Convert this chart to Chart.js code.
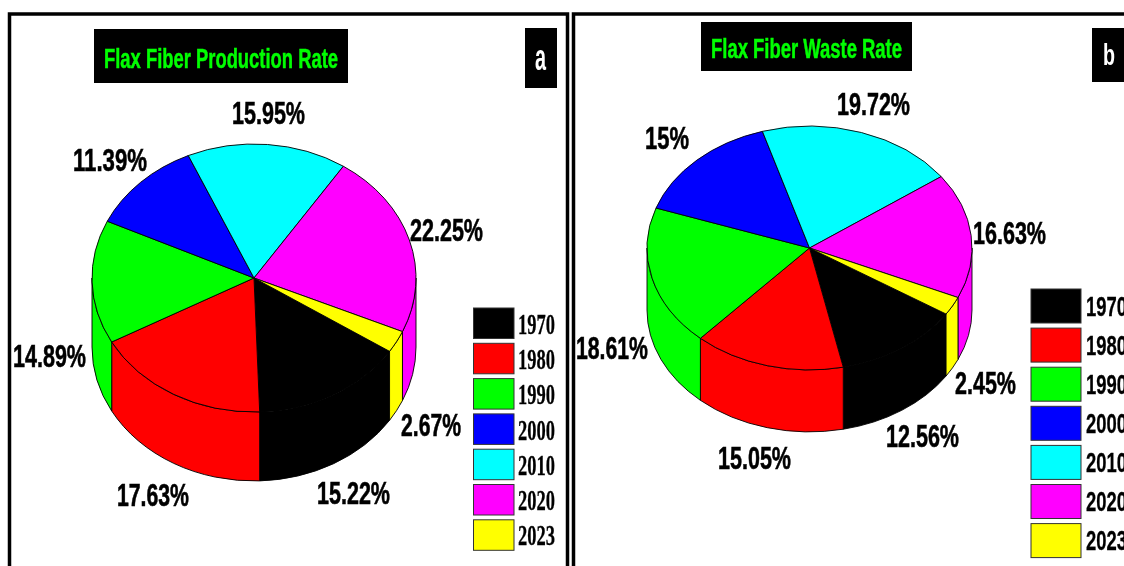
<!DOCTYPE html>
<html>
<head>
<meta charset="utf-8">
<title>Flax fiber production and waste rates</title>
<script src="https://cdn.jsdelivr.net/npm/chart.js@4"></script>
<style>
  html, body { margin: 0; padding: 0; background: #fff; overflow: hidden; }
  #wrap { position: relative; width: 1124px; height: 566px; }
  canvas { position: absolute; top: 0; }
  #chartA { left: 0; }
  #chartB { left: 570px; }
</style>
</head>
<body>
<div id="wrap">
  <canvas id="chartA" width="570" height="566"></canvas>
  <canvas id="chartB" width="554" height="566"></canvas>
</div>
<script>
// Shared categories and slice colours
const years = ['1970', '1980', '1990', '2000', '2010', '2020', '2023'];
const sliceColors = ['#000000', '#ff0000', '#00ff00', '#0000ff', '#00ffff', '#ff00ff', '#ffff00'];

// Percent share per year
const productionRate = [15.22, 17.63, 14.89, 11.39, 15.95, 22.25, 2.67];
const wasteRate = [12.56, 15.05, 18.61, 15, 19.72, 16.63, 2.45];

// Value label boxes for each panel, in canvas pixels: [left, width, centre y]
const productionLabelBoxes = [
  [317, 73, 493], [117, 72, 495], [13, 73, 356], [73, 74, 160],
  [232, 73, 113], [410, 73, 230], [401, 60, 425]
];
const wasteLabelBoxes = [
  [316, 73, 436], [148, 73, 458], [6, 72, 348], [75, 44, 138],
  [267, 73, 104], [403, 73, 233], [385, 61, 383]
];

// Draws a single line squeezed to the given width, with its cap height centred on cy.
// A thin outline thickens the squeezed strokes.
function fitText(ctx, text, left, width, cy, size, family, color, weight) {
  ctx.save();
  ctx.font = 'bold ' + size + 'px ' + family;
  ctx.fillStyle = color;
  ctx.strokeStyle = color;
  ctx.textAlign = 'left';
  ctx.textBaseline = 'alphabetic';
  const natural = ctx.measureText(text).width;
  ctx.translate(left, cy + size * 0.358);
  ctx.scale(width / natural, 1);
  ctx.fillText(text, 0, 0);
  if (weight) {
    ctx.lineWidth = weight;
    ctx.strokeText(text, 0, 0);
  }
  ctx.restore();
}

// Tilted pie with a visible side wall, plus frame, title, tag, value labels and key
const tiltedPie = {
  id: 'tiltedPie',
  beforeDraw(chart, args, o) {
    const ctx = chart.ctx;
    ctx.save();
    ctx.fillStyle = '#fff';
    ctx.fillRect(0, 0, chart.width, chart.height);
    ctx.strokeStyle = '#000';
    ctx.lineWidth = 3.5;
    ctx.strokeRect(o.frame[0], o.frame[1], o.frame[2], o.frame[3]);
    ctx.restore();
  },
  beforeDatasetsDraw(chart, args, o) {
    const ctx = chart.ctx;
    const arcs = chart.getDatasetMeta(0).data;
    const cy = arcs[0].y;
    ctx.save();
    ctx.translate(0, cy);
    ctx.scale(1, o.tilt);
    ctx.translate(0, -cy);
    const depth = o.depth / o.tilt;
    arcs.forEach((arc, i) => {
      // Only the part of each slice on the near half of the rim shows a wall
      for (let turn = -1; turn <= 1; turn++) {
        const s = Math.max(arc.startAngle + turn * 2 * Math.PI, 0);
        const e = Math.min(arc.endAngle + turn * 2 * Math.PI, Math.PI);
        if (e <= s) continue;
        ctx.beginPath();
        ctx.arc(arc.x, arc.y, arc.outerRadius, s, e);
        ctx.arc(arc.x, arc.y + depth, arc.outerRadius, e, s, true);
        ctx.closePath();
        ctx.fillStyle = sliceColors[i];
        ctx.fill();
        ctx.lineWidth = 1;
        ctx.strokeStyle = '#000';
        ctx.stroke();
      }
    });
  },
  afterDatasetsDraw(chart, args, o) {
    const ctx = chart.ctx;
    ctx.restore();

    // Title box
    ctx.fillStyle = '#000';
    ctx.fillRect(o.titleBox[0], o.titleBox[1], o.titleBox[2], o.titleBox[3]);
    fitText(ctx, o.title, o.titleText[0], o.titleText[1], o.titleText[2], 27, '"Liberation Sans"', '#00ff00', 0.5);

    // Panel tag
    ctx.fillStyle = '#000';
    ctx.fillRect(o.tagBox[0], o.tagBox[1], o.tagBox[2], o.tagBox[3]);
    fitText(ctx, o.tag, o.tagText[0], o.tagText[1], o.tagText[2], o.tagText[3], '"Liberation Sans"', '#ffffff');

    // Value labels
    chart.data.datasets[0].data.forEach((v, i) => {
      const b = o.labelBoxes[i];
      fitText(ctx, v + '%', b[0], b[1], b[2], 32, '"Liberation Sans"', '#000', 0.6);
    });

    // Key
    const k = o.key;
    chart.data.labels.forEach((year, i) => {
      const y = k.top + i * k.pitch;
      ctx.fillStyle = sliceColors[i];
      ctx.fillRect(k.x, y, k.w, k.h);
      ctx.lineWidth = 1;
      ctx.strokeStyle = '#333';
      ctx.strokeRect(k.x, y, k.w, k.h);
      fitText(ctx, year, k.textX, k.textW, y + k.h / 2, k.size, k.family, '#000', 0.3);
    });
  }
};

function makePie(id, values, rotation, padding, opts) {
  return new Chart(document.getElementById(id), {
    type: 'pie',
    data: {
      labels: years,
      datasets: [{
        data: values,
        backgroundColor: sliceColors,
        borderColor: '#000',
        borderWidth: 1,
        hoverOffset: 0
      }]
    },
    options: {
      responsive: false,
      animation: false,
      rotation: rotation,
      layout: { padding: padding },
      plugins: {
        legend: { display: false },
        tooltip: { enabled: false },
        tiltedPie: opts
      }
    },
    plugins: [tiltedPie]
  });
}

makePie('chartA', productionRate, 123.2,
  { left: 91.5, right: 153.5, top: 115.5, bottom: 125.5 },
  {
    tilt: 0.827, depth: 69,
    frame: [9.5, 14, 558, 600],
    title: 'Flax Fiber Production Rate',
    titleBox: [94, 29, 254, 54], titleText: [104, 234, 58],
    tag: 'a', tagBox: [525, 28, 32, 60], tagText: [535, 11, 57, 36],
    labelBoxes: productionLabelBoxes,
    key: { x: 473.5, top: 308, pitch: 35.3, w: 40.5, h: 30.5, textX: 518, textW: 37, size: 29, family: '"Liberation Serif"' }
  });

makePie('chartB', wasteRate, 122.8,
  { left: 76.5, right: 151.5, top: 85, bottom: 155 },
  {
    tilt: 0.75, depth: 62,
    frame: [3.5, 14, 600, 600],
    title: 'Flax Fiber Waste Rate',
    titleBox: [131, 22, 211, 49], titleText: [141, 191, 48],
    tag: 'b', tagBox: [522, 28, 40, 54], tagText: [533, 12, 54, 30],
    labelBoxes: wasteLabelBoxes,
    key: { x: 461, top: 289, pitch: 39.1, w: 50, h: 34, textX: 516, textW: 41, size: 27, family: '"Liberation Sans"' }
  });
</script>
</body>
</html>
